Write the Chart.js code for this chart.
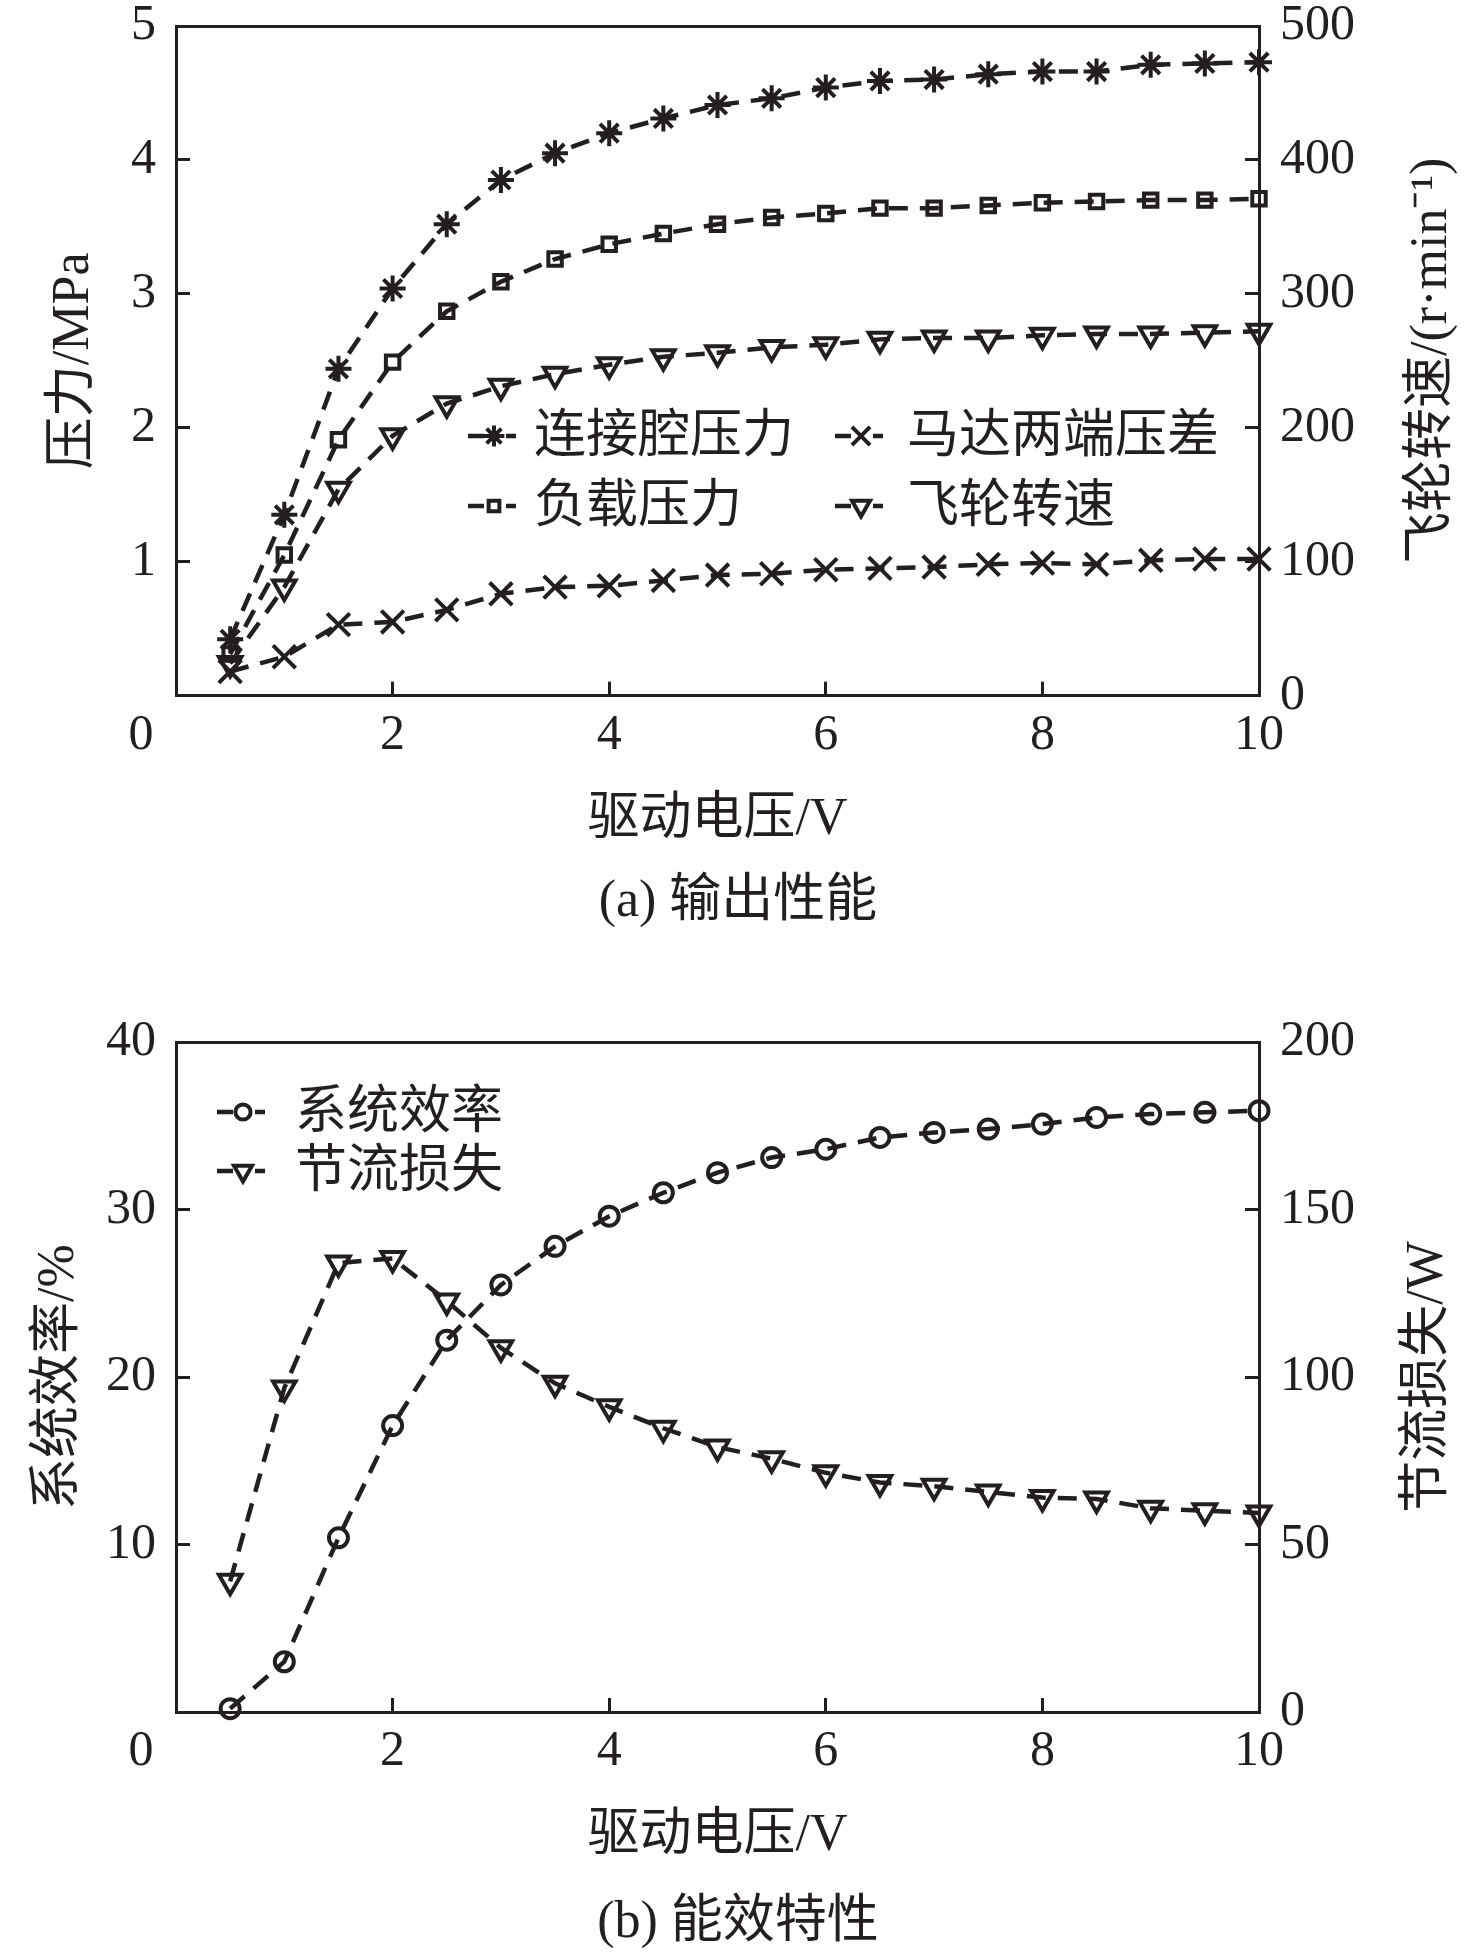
<!DOCTYPE html>
<html><head><meta charset="utf-8">
<script src="https://cdn.jsdelivr.net/npm/chart.js@4.4.1/dist/chart.umd.min.js"></script>
<style>
html,body{margin:0;padding:0;background:#fff;}
#wrap{position:relative;width:1476px;height:1957px;background:#fff;}
canvas{position:absolute;left:0;}
</style></head><body>
<div id="wrap">
<canvas id="c1" width="1476" height="950" style="top:0;width:1476px;height:950px"></canvas>
<canvas id="c2" width="1476" height="1007" style="top:950px;width:1476px;height:1007px"></canvas>
</div>
<script>
// ---- data ----
const voltage = [0.5, 1, 1.5, 2, 2.5, 3, 3.5, 4, 4.5, 5, 5.5, 6, 6.5, 7, 7.5, 8, 8.5, 9, 9.5, 10];
const connPressure = [0.42, 1.35, 2.44, 3.04, 3.52, 3.85, 4.05, 4.20, 4.31, 4.41, 4.46, 4.54, 4.59, 4.60, 4.64, 4.66, 4.66, 4.71, 4.72, 4.73];
const motorDiff = [0.18, 0.29, 0.53, 0.55, 0.64, 0.76, 0.81, 0.82, 0.86, 0.90, 0.91, 0.94, 0.95, 0.96, 0.98, 0.99, 0.98, 1.01, 1.02, 1.02];
const loadPressure = [0.31, 1.05, 1.91, 2.49, 2.87, 3.09, 3.26, 3.37, 3.45, 3.52, 3.57, 3.60, 3.64, 3.64, 3.66, 3.68, 3.69, 3.70, 3.70, 3.71];
const flywheelSpeed = [24, 81, 154, 194, 218, 231, 240, 247, 253, 256, 260, 262, 266, 267, 267, 269, 270, 270, 271, 272];
const efficiency = [0.2, 3.0, 10.4, 17.1, 22.2, 25.5, 27.8, 29.6, 31.0, 32.2, 33.1, 33.6, 34.3, 34.6, 34.8, 35.1, 35.5, 35.7, 35.8, 35.9];
const throttleLoss = [39, 96.7, 134, 135.4, 122.7, 108.7, 98.1, 91.1, 84.7, 79.1, 75.6, 71.4, 68.5, 67.4, 65.7, 64.0, 63.6, 60.8, 60.1, 59.4];

const seriesNamesA = ['连接腔压力', '马达两端压差', '负载压力', '飞轮转速'];
const seriesNamesB = ['系统效率', '节流损失'];
const xTitle = '驱动电压/V';
const yTitlesA = ['压力/MPa', '飞轮转速/(r·min⁻¹)'];
const yTitlesB = ['系统效率/%', '节流损失/W'];
const captions = ['(a) 输出性能', '(b) 能效特性'];

// ---- styles ----
const INK = '#231f20';
const TICK_FONT = {family: "'Liberation Serif', 'Times New Roman', serif", size: 50, lineHeight: 1, weight: 'normal'};
const TITLE_FONT = {family: "'Liberation Serif', 'Noto Sans CJK SC', serif", size: 52, lineHeight: 1.2, weight: 'normal'};
const TEXT_FONT = "52px 'Liberation Serif', 'Noto Sans CJK SC', serif";

function ds(label, values, yAxisID, style, radius, rotation) {
  return {
    label, yAxisID, xAxisID: 'x',
    data: voltage.map((x, i) => ({x, y: values[i]})),
    borderColor: INK, backgroundColor: 'rgba(0,0,0,0)', borderWidth: 4.5, borderDash: [19, 12],
    pointStyle: style, pointRadius: radius, pointHoverRadius: radius, pointRotation: rotation || 0,
    pointBorderColor: INK, pointBackgroundColor: 'rgba(0,0,0,0)', pointBorderWidth: 4,
    tension: 0, fill: false, clip: false
  };
}

function gridOpts() {
  return {drawOnChartArea: false, drawTicks: true, tickLength: -14, color: INK, lineWidth: 3};
}
function noPad(s) { s.paddingTop = 0; s.paddingBottom = 0; s.paddingLeft = 0; s.paddingRight = 0; }
function yAxis(pos, min, max, step, title, titlePad, hideZero, width) {
  return {
    type: 'linear', position: pos, min, max,
    ticks: {stepSize: step, color: INK, font: TICK_FONT, padding: pos === 'left' ? 34 : 35,
      callback: v => (hideZero && v === 0) ? '' : String(v)},
    grid: gridOpts(),
    border: {display: true, color: INK, width: 3},
    title: {display: pos === 'left', text: title, color: INK, font: TITLE_FONT, padding: {top: titlePad, bottom: 0}},
    afterFit: s => { s.width = width; noPad(s); }
  };
}
function xAxis() {
  return {
    type: 'linear', position: 'bottom', min: 0, max: 10,
    ticks: {stepSize: 2, color: INK, font: TICK_FONT, padding: 29, maxRotation: 0, autoSkip: false,
      callback: v => v === 0 ? '0\u2003\u2009\u2009' : String(v)},
    grid: gridOpts(),
    border: {display: true, color: INK, width: 3},
    title: {display: true, text: xTitle, color: INK, font: TITLE_FONT, padding: {top: 0, bottom: 0}},
    afterFit: s => { s.height = 156; noPad(s); }
  };
}
function topAxis() {
  return {
    type: 'linear', position: 'top', min: 0, max: 10,
    ticks: {display: false}, grid: {display: false},
    border: {display: true, color: INK, width: 3},
    afterFit: s => { s.height = 0; noPad(s); }
  };
}

// legend drawn inside the plot, plus right-axis title reading bottom-to-top
const customText = {
  id: 'customText',
  afterDatasetsDraw(chart, args, opts) {
    const ctx = chart.ctx;
    (opts.items || []).forEach(it => {
      const d = chart.data.datasets[it.index];
      ctx.save();
      ctx.strokeStyle = INK; ctx.lineWidth = 4.5; ctx.setLineDash([]);
      ctx.beginPath();
      ctx.moveTo(it.x, it.y); ctx.lineTo(it.x + 16, it.y);
      ctx.moveTo(it.x + 38, it.y); ctx.lineTo(it.x + 48, it.y);
      ctx.stroke();
      ctx.lineWidth = d.pointBorderWidth;
      ctx.fillStyle = 'rgba(0,0,0,0)';
      Chart.helpers.drawPoint(ctx, {pointStyle: d.pointStyle, rotation: d.pointRotation,
        radius: d.pointRadius * 0.8, borderWidth: d.pointBorderWidth}, it.x + 26, it.y);
      ctx.fillStyle = INK;
      ctx.font = TEXT_FONT; ctx.textAlign = 'left'; ctx.textBaseline = 'middle';
      ctx.fillText(d.label, it.tx, it.y + 2);
      ctx.restore();
    });
    if (opts.rightTitle) {
      const s = chart.scales.y2;
      ctx.save();
      ctx.translate(opts.rightTitleX, (s.top + s.bottom) / 2);
      ctx.rotate(-Math.PI / 2);
      ctx.fillStyle = INK; ctx.font = TEXT_FONT;
      ctx.textAlign = 'center'; ctx.textBaseline = 'middle';
      ctx.fillText(opts.rightTitle, 0, 0);
      ctx.restore();
    }
  }
};

new Chart(document.getElementById('c1'), {
  type: 'line',
  data: {datasets: [
    ds(seriesNamesA[0], connPressure, 'y', 'star', 13),
    ds(seriesNamesA[1], motorDiff, 'y', 'crossRot', 16),
    ds(seriesNamesA[2], loadPressure, 'y', 'rect', 9.5),
    ds(seriesNamesA[3], flywheelSpeed, 'y2', 'triangle', 13, 180)
  ]},
  options: {
    responsive: false, animation: false, devicePixelRatio: 1,
    layout: {padding: {top: 26, left: 0, right: 0, bottom: 16}},
    scales: {
      x: xAxis(), x2: topAxis(),
      y: yAxis('left', 0, 5, 1, yTitlesA[0], 43, true, 176),
      y2: yAxis('right', 0, 500, 100, yTitlesA[1], 13, false, 217)
    },
    plugins: {
      legend: {display: false}, tooltip: {enabled: false},
      title: {display: true, position: 'bottom', text: captions[0], color: INK, font: TITLE_FONT, padding: {top: 20, bottom: 0}},
      customText: {
        rightTitle: yTitlesA[1], rightTitleX: 1432,
        items: [
          {index: 0, x: 468, tx: 534, y: 436},
          {index: 1, x: 835, tx: 907, y: 436},
          {index: 2, x: 468, tx: 534, y: 506},
          {index: 3, x: 835, tx: 907, y: 506}
        ]}
    }
  },
  plugins: [customText]
});

new Chart(document.getElementById('c2'), {
  type: 'line',
  data: {datasets: [
    ds(seriesNamesB[0], efficiency, 'y', 'circle', 9.5),
    ds(seriesNamesB[1], throttleLoss, 'y2', 'triangle', 13, 180)
  ]},
  options: {
    responsive: false, animation: false, devicePixelRatio: 1,
    layout: {padding: {top: 92, left: 0, right: 0, bottom: 2.6}},
    scales: {
      x: xAxis(), x2: topAxis(),
      y: yAxis('left', 0, 40, 10, yTitlesB[0], 28, true, 176),
      y2: yAxis('right', 0, 200, 50, yTitlesB[1], 17, false, 217)
    },
    plugins: {
      legend: {display: false}, tooltip: {enabled: false},
      title: {display: true, position: 'bottom', text: captions[1], color: INK, font: TITLE_FONT, padding: {top: 24, bottom: 0}},
      customText: {
        rightTitle: yTitlesB[1], rightTitleX: 1428,
        items: [
          {index: 0, x: 217, tx: 295, y: 162},
          {index: 1, x: 217, tx: 295, y: 221}
        ]}
    }
  },
  plugins: [customText]
});
</script>
</body></html>
